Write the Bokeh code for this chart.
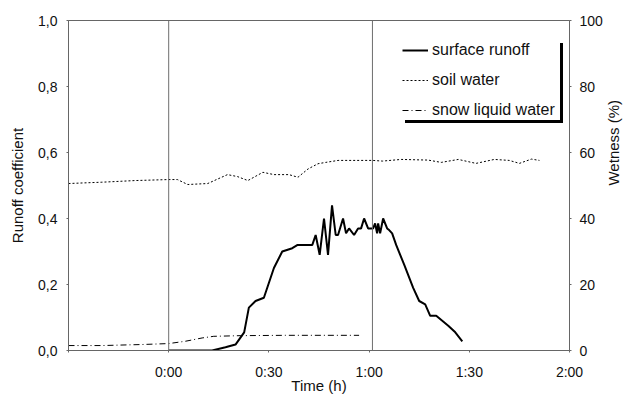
import math
from bokeh.plotting import figure
from bokeh.models import (Range1d, LinearAxis, FixedTicker, Span, Legend, LegendItem)
from bokeh.embed import file_html
from bokeh.resources import INLINE

# ---- data (minutes relative to 0:00) ----
runoff_t = [0, 13, 17, 20, 22.6, 24, 26, 28.5, 31.5, 34, 37, 38.6, 43, 44, 45.2, 46.5,
            47.7, 48.9, 50, 50.7, 52.2, 53.1, 54, 55.5, 56.7, 57.6, 58.5, 59.7, 61.2,
            61.8, 62.4, 62.7, 63.3, 64.2, 65.4, 66, 66.9, 68.1, 70.5, 73.2, 75, 76.8,
            78.3, 80.1, 83.7, 85.8, 87.9]
runoff_v = [0, 0, 0.01, 0.018, 0.055, 0.13, 0.15, 0.16, 0.25, 0.30, 0.31, 0.32, 0.32,
            0.35, 0.29, 0.40, 0.29, 0.44, 0.35, 0.35, 0.40, 0.355, 0.37, 0.35, 0.37,
            0.37, 0.40, 0.37, 0.37, 0.385, 0.355, 0.385, 0.355, 0.40, 0.37, 0.365,
            0.355, 0.32, 0.26, 0.19, 0.15, 0.14, 0.105, 0.105, 0.075, 0.055, 0.028]

soil_t = [-30, -20, -10, 0, 2.6, 5.7, 11.7, 17.6, 20.6, 23.7, 28.2, 31.5, 36, 38.7,
          41.7, 44.7, 47, 50.7, 61.2, 64, 69.6, 77.7, 81.6, 86.7, 92, 97.5, 102, 105,
          108.6, 111]
soil_v = [50.6, 51.0, 51.5, 51.8, 51.8, 50.3, 50.6, 53.3, 52.7, 51.5, 54.0, 53.3, 53.3,
          52.5, 55.0, 56.6, 57.0, 57.6, 57.6, 57.4, 57.9, 57.7, 57.0, 57.9, 56.7, 57.9,
          57.6, 56.7, 58.0, 57.6]

snow_t = [-30, -20, -8.4, 0, 5, 10, 13.5, 21.6, 35, 45.6, 57]
snow_v = [1.5, 1.5, 1.8, 2.1, 2.8, 3.8, 4.3, 4.5, 4.6, 4.6, 4.6]

x_ticks = [-30, 0, 30, 60, 90, 120]
x_labels = ["", "0:00", "0:30", "1:00", "1:30", "2:00"]
y_ticks = [0, 0.2, 0.4, 0.6, 0.8, 1.0]
y_labels = ["0,0", "0,2", "0,4", "0,6", "0,8", "1,0"]
y2_ticks = [0, 20, 40, 60, 80, 100]
y2_labels = ["0", "20", "40", "60", "80", "100"]
markers = [0, 61]
series_names = ["surface runoff", "soil water", "snow liquid water"]

FONT = "Liberation Sans"
AX = "#666666"

p = figure(frame_width=501, frame_height=330, output_backend="svg", toolbar_location=None,
           x_range=Range1d(-30, 120), y_range=Range1d(0, 1),
           min_border_left=68, min_border_right=10, min_border_top=20,
           min_border_bottom=40)
p.extra_y_ranges = {"wet": Range1d(0, 100)}
p.grid.visible = False
p.outline_line_color = AX
p.background_fill_color = "white"
p.border_fill_color = "white"

for m in markers:
    p.add_layout(Span(location=m, dimension="height", line_color="#6e6e6e", line_width=1))

r_run = p.line(runoff_t, runoff_v, line_color="black", line_width=2)
r_soil = p.line(soil_t, soil_v, line_color="black", line_width=1, line_dash="2 2",
                y_range_name="wet")
r_snow = p.line(snow_t, snow_v, line_color="black", line_width=1, line_dash="6 3 1 3",
                y_range_name="wet")

def style_axis(ax):
    ax.axis_line_color = AX
    ax.major_tick_line_color = AX
    ax.major_tick_out = 2
    ax.major_tick_in = 0
    ax.minor_tick_line_color = None
    ax.major_label_text_font = FONT
    ax.major_label_text_font_size = "14px"
    ax.major_label_text_color = "#111111"
    ax.axis_label_text_font = FONT
    ax.axis_label_text_font_size = "15px"
    ax.axis_label_text_font_style = "normal"
    ax.axis_label_text_color = "#111111"

xa = p.xaxis[0]
xa.ticker = FixedTicker(ticks=x_ticks)
xa.major_label_overrides = dict(zip(x_ticks, x_labels))
xa.axis_label = "Time (h)"
style_axis(xa)
xa.major_label_standoff = 11
xa.axis_label_standoff = -6

ya = p.yaxis[0]
ya.ticker = FixedTicker(ticks=y_ticks)
ya.major_label_overrides = dict(zip(y_ticks, y_labels))
ya.axis_label = "Runoff coefficient"
style_axis(ya)
ya.major_label_standoff = 9
ya.axis_label_standoff = 9

ra = LinearAxis(y_range_name="wet", ticker=FixedTicker(ticks=y2_ticks),
                axis_label="Wetness (%)")
ra.major_label_overrides = dict(zip(y2_ticks, y2_labels))
style_axis(ra)
ra.major_label_standoff = 8
ra.axis_label_standoff = 8
try:
    ra.axis_label_orientation = math.pi / 2
except Exception:
    pass
p.add_layout(ra, "right")

def make_legend(shadow):
    rs = [r_run, r_soil, r_snow]
    items = [LegendItem(label=(" " if shadow else n), renderers=[r])
             for n, r in zip(series_names, rs)]
    off = 3 if shadow else 0
    leg = Legend(items=items, location=(334 + off, 230 - off),
                 orientation="vertical", padding=5, spacing=10, margin=0,
                 label_height=20, glyph_height=20, glyph_width=26, label_standoff=4,
                 label_width=128,
                 label_text_font=FONT, label_text_font_size="16px",
                 label_text_color="#111111",
                 background_fill_color="black" if shadow else "white",
                 background_fill_alpha=1.0, border_line_color=None)
    return leg

p.add_layout(make_legend(True), "center")
p.add_layout(make_legend(False), "center")

open("out.html", "w").write(file_html(p, INLINE))
